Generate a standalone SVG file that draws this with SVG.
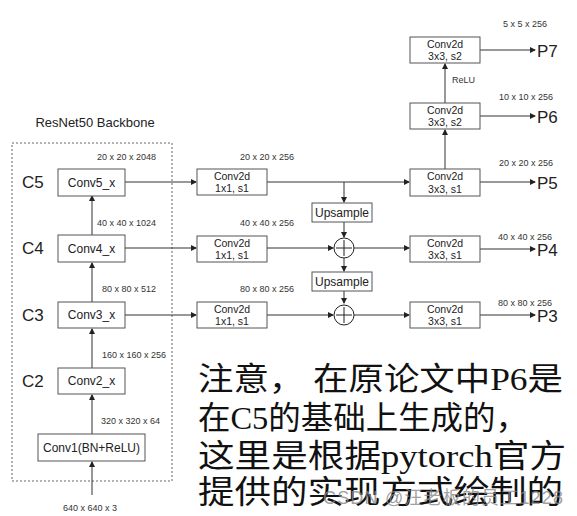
<svg xmlns="http://www.w3.org/2000/svg" width="577" height="516" viewBox="0 0 577 516">
<defs>
<marker id="ah" markerWidth="6" markerHeight="6" refX="5" refY="3" orient="auto" markerUnits="userSpaceOnUse">
<path d="M0,0 L6,3 L0,6 z" fill="#222"/>
</marker>
<style>
.box{fill:#fff;stroke:#555;stroke-width:1}
.t{font-family:"Liberation Sans",Arial,sans-serif;fill:#222;text-anchor:middle}
.bt{font-size:12px}
.st{font-size:10.5px}
.sz{font-family:"Liberation Sans",Arial,sans-serif;font-size:9px;fill:#333}
.cl{font-family:"Liberation Sans",Arial,sans-serif;font-size:17px;fill:#222}
.ln{stroke:#333;stroke-width:1;fill:none}
.cn{font-family:"Liberation Serif","Noto Sans CJK SC",serif;font-size:32px;fill:#111}
</style>
</defs>
<rect width="577" height="516" fill="#fff"/>

<text class="t" x="95" y="127" font-size="13">ResNet50 Backbone</text>
<rect x="12" y="143" width="160" height="338" fill="none" stroke="#666" stroke-dasharray="2,2"/>

<g id="connectors">
<line class="ln" x1="92" y1="495" x2="92" y2="462" marker-end="url(#ah)"/>
<line class="ln" x1="92" y1="434" x2="92" y2="395" marker-end="url(#ah)"/>
<line class="ln" x1="92" y1="368" x2="92" y2="329" marker-end="url(#ah)"/>
<line class="ln" x1="92" y1="302" x2="92" y2="263" marker-end="url(#ah)"/>
<line class="ln" x1="92" y1="235" x2="92" y2="196" marker-end="url(#ah)"/>
<line class="ln" x1="125" y1="182" x2="196" y2="182" marker-end="url(#ah)"/>
<line class="ln" x1="125" y1="248" x2="196" y2="248" marker-end="url(#ah)"/>
<line class="ln" x1="125" y1="315" x2="196" y2="315" marker-end="url(#ah)"/>
<line class="ln" x1="267" y1="182" x2="409" y2="182" marker-end="url(#ah)"/>
<line class="ln" x1="344" y1="182" x2="344" y2="202" marker-end="url(#ah)"/>
<line class="ln" x1="344" y1="222" x2="344" y2="237" marker-end="url(#ah)"/>
<line class="ln" x1="344" y1="258" x2="344" y2="271" marker-end="url(#ah)"/>
<line class="ln" x1="344" y1="291" x2="344" y2="303" marker-end="url(#ah)"/>
<line class="ln" x1="267" y1="248" x2="333" y2="248" marker-end="url(#ah)"/>
<line class="ln" x1="267" y1="315" x2="333" y2="315" marker-end="url(#ah)"/>
<line class="ln" x1="354" y1="248" x2="409" y2="248" marker-end="url(#ah)"/>
<line class="ln" x1="354" y1="315" x2="409" y2="315" marker-end="url(#ah)"/>
<line class="ln" x1="445" y1="169" x2="445" y2="130" marker-end="url(#ah)"/>
<line class="ln" x1="445" y1="103" x2="445" y2="64" marker-end="url(#ah)"/>
<line class="ln" x1="480" y1="50" x2="535" y2="50" marker-end="url(#ah)"/>
<line class="ln" x1="480" y1="116" x2="535" y2="116" marker-end="url(#ah)"/>
<line class="ln" x1="480" y1="182" x2="535" y2="182" marker-end="url(#ah)"/>
<line class="ln" x1="480" y1="249" x2="535" y2="249" marker-end="url(#ah)"/>
<line class="ln" x1="480" y1="315" x2="535" y2="315" marker-end="url(#ah)"/>
</g>

<g id="conv5"><rect class="box" x="58" y="169" width="67" height="27"/><text class="t bt" x="91.5" y="187">Conv5_x</text></g>
<g id="conv4"><rect class="box" x="58" y="235" width="67" height="27"/><text class="t bt" x="91.5" y="253">Conv4_x</text></g>
<g id="conv3"><rect class="box" x="58" y="302" width="67" height="26"/><text class="t bt" x="91.5" y="319">Conv3_x</text></g>
<g id="conv2"><rect class="box" x="58" y="368" width="67" height="26"/><text class="t bt" x="91.5" y="385">Conv2_x</text></g>
<g id="conv1"><rect class="box" x="38" y="434" width="107" height="27"/><text class="t bt" x="91.5" y="452">Conv1(BN+ReLU)</text></g>

<text class="cl" x="22" y="188">C5</text>
<text class="cl" x="22" y="254">C4</text>
<text class="cl" x="22" y="321">C3</text>
<text class="cl" x="22" y="387">C2</text>

<text class="sz" x="97" y="160">20 x 20 x 2048</text>
<text class="sz" x="97" y="226">40 x 40 x 1024</text>
<text class="sz" x="102" y="292">80 x 80 x 512</text>
<text class="sz" x="102" y="358">160 x 160 x 256</text>
<text class="sz" x="101" y="424">320 x 320 x 64</text>
<text class="sz" x="63" y="511">640 x 640 x 3</text>

<g id="lat5"><rect class="box" x="197" y="169" width="70" height="26"/><text class="t st" x="232" y="180">Conv2d</text><text class="t st" x="232" y="192">1x1, s1</text></g>
<g id="lat4"><rect class="box" x="197" y="236" width="70" height="26"/><text class="t st" x="232" y="247">Conv2d</text><text class="t st" x="232" y="259">1x1, s1</text></g>
<g id="lat3"><rect class="box" x="197" y="302" width="70" height="26"/><text class="t st" x="232" y="313">Conv2d</text><text class="t st" x="232" y="325">1x1, s1</text></g>

<text class="sz" x="240" y="160">20 x 20 x 256</text>
<text class="sz" x="240" y="226">40 x 40 x 256</text>
<text class="sz" x="240" y="292">80 x 80 x 256</text>

<g id="up1"><rect class="box" x="312" y="203" width="60" height="19"/><text class="t" font-size="12" x="342" y="217">Upsample</text></g>
<g id="up2"><rect class="box" x="312" y="272" width="60" height="19"/><text class="t" font-size="12" x="342" y="286">Upsample</text></g>
<g id="add1"><circle cx="344" cy="248" r="10" fill="#fff" stroke="#222"/><path d="M336,248 H352 M344,240 V256" stroke="#222"/></g>
<g id="add2"><circle cx="344" cy="315" r="10" fill="#fff" stroke="#222"/><path d="M336,315 H352 M344,307 V323" stroke="#222"/></g>

<g id="p7box"><rect class="box" x="410" y="37" width="70" height="26"/><text class="t st" x="445" y="48">Conv2d</text><text class="t st" x="445" y="60">3x3, s2</text></g>
<g id="p6box"><rect class="box" x="410" y="103" width="70" height="26"/><text class="t st" x="445" y="114">Conv2d</text><text class="t st" x="445" y="126">3x3, s2</text></g>
<g id="p5box"><rect class="box" x="410" y="169" width="70" height="27"/><text class="t st" x="445" y="180">Conv2d</text><text class="t st" x="445" y="193">3x3, s1</text></g>
<g id="p4box"><rect class="box" x="410" y="236" width="70" height="26"/><text class="t st" x="445" y="247">Conv2d</text><text class="t st" x="445" y="259">3x3, s1</text></g>
<g id="p3box"><rect class="box" x="410" y="302" width="70" height="26"/><text class="t st" x="445" y="313">Conv2d</text><text class="t st" x="445" y="325">3x3, s1</text></g>

<text class="sz" x="452" y="83">ReLU</text>
<text class="sz" x="503" y="27">5 x 5 x 256</text>
<text class="sz" x="499" y="100">10 x 10 x 256</text>
<text class="sz" x="499" y="166">20 x 20 x 256</text>
<text class="sz" x="498" y="240">40 x 40 x 256</text>
<text class="sz" x="498" y="306">80 x 80 x 256</text>

<text class="cl" x="537" y="57">P7</text>
<text class="cl" x="537" y="123">P6</text>
<text class="cl" x="537" y="189">P5</text>
<text class="cl" x="537" y="256">P4</text>
<text class="cl" x="537" y="322">P3</text>

<text class="cn" x="198" y="390" textLength="365" lengthAdjust="spacingAndGlyphs">注意， 在原论文中P6是</text>
<text class="cn" x="198" y="429" textLength="330" lengthAdjust="spacingAndGlyphs">在C5的基础上生成的，</text>
<text class="cn" x="198" y="467" textLength="368" lengthAdjust="spacingAndGlyphs">这里是根据pytorch官方</text>
<text class="cn" x="198" y="503" textLength="365" lengthAdjust="spacingAndGlyphs">提供的实现方式绘制的</text>

<text x="323" y="504" font-family="'Liberation Sans','Noto Sans CJK SC',sans-serif" font-size="18" fill="#888" fill-opacity="0.8" textLength="240">CSDN @汪老板的员工1228</text>
</svg>
